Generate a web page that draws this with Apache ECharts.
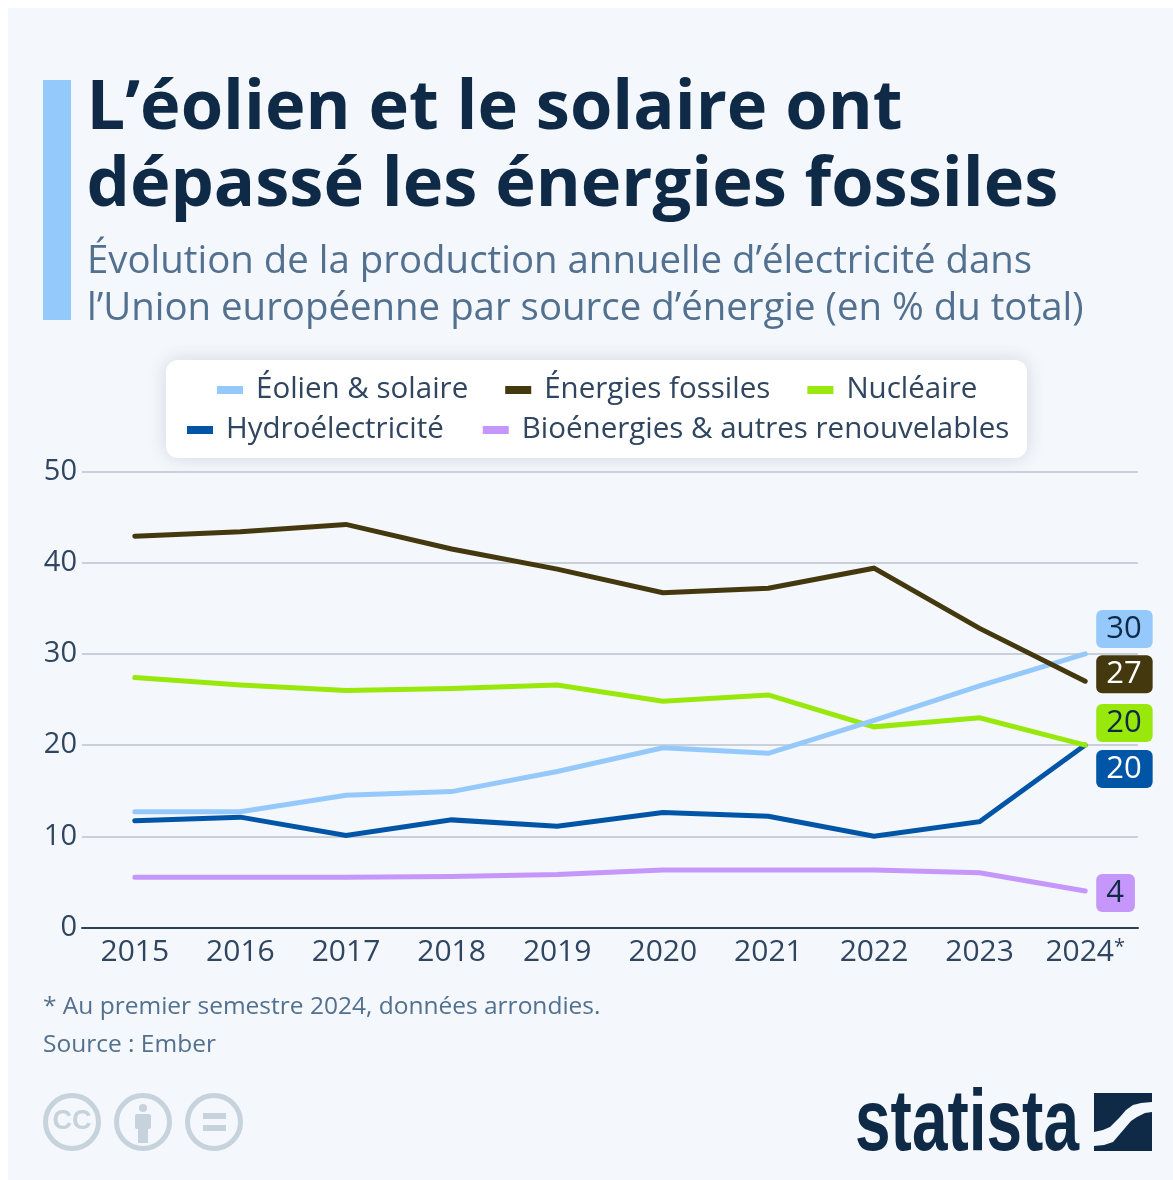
<!DOCTYPE html>
<html>
<head>
<meta charset="utf-8">
<title>Production d'électricité UE</title>
<script src="https://cdn.jsdelivr.net/npm/echarts@6/dist/echarts.min.js"></script>
<style>
  html, body { margin: 0; padding: 0; background: #fff; }
  #panel { position: absolute; left: 8px; top: 8px; width: 1165px; height: 1172px; background: #f4f7fb; }
  #chart { position: absolute; left: 0; top: 0; width: 1173px; height: 1180px; }
</style>
</head>
<body>
<div id="panel"></div>
<div id="chart"></div>
<script>
const years = ['2015', '2016', '2017', '2018', '2019', '2020', '2021', '2022', '2023', '2024*']
const yTicks = [0, 10, 20, 30, 40, 50]

const eolienSolaire = [12.7, 12.7, 14.5, 14.9, 17.1, 19.7, 19.1, 22.7, 26.5, 30]
const fossiles = [42.9, 43.4, 44.2, 41.5, 39.3, 36.7, 37.2, 39.4, 32.8, 27]
const nucleaire = [27.4, 26.6, 26.0, 26.2, 26.6, 24.8, 25.5, 22.0, 23.0, 20]
const hydro = [11.7, 12.1, 10.1, 11.8, 11.1, 12.6, 12.2, 10.0, 11.6, 20]
const bio = [5.5, 5.5, 5.5, 5.6, 5.8, 6.3, 6.3, 6.3, 6.0, 4]

const font = '"Open Sans", "Noto Sans", sans-serif'
const navy = '#0f2a47'
const textDark = '#2f4560'
const textMuted = '#52708f'
const iconGrey = '#c6d2dc'

// une serie + son etiquette de fin
function makeLine(name, data, color, labelColor, offsetY) {
  return {
    name: name,
    type: 'line',
    data: data,
    symbol: 'none',
    lineStyle: { color: color, width: 5, cap: 'round', join: 'miter' },
    itemStyle: { color: color },
    endLabel: {
      show: true,
      formatter: (p) => String(Math.round(p.value)),
      offset: [3, offsetY],
      backgroundColor: color,
      color: labelColor,
      fontFamily: font,
      fontSize: 31,
      lineHeight: 36,
      borderRadius: 6,
      padding: [1, 11, 1, 10]
    }
  }
}

const legendBase = {
  orient: 'horizontal',
  icon: 'rect',
  itemWidth: 26,
  itemHeight: 8,
  padding: 0,
  textStyle: { fontFamily: font, fontSize: 29.5, color: textDark, padding: [0, 0, 0, 8] }
}

const chart = echarts.init(document.getElementById('chart'))
chart.setOption({
  animation: false,
  title: [
    {
      text: 'L’éolien et le solaire ont\ndépassé les énergies fossiles',
      left: 86.5, top: 71, padding: 0,
      textStyle: { fontFamily: font, fontWeight: 700, fontSize: 68.6, lineHeight: 77, color: navy }
    },
    {
      text: 'Évolution de la production annuelle d’électricité dans\nl’Union européenne par source d’énergie (en % du total)',
      left: 87, top: 239, padding: 0,
      textStyle: { fontFamily: font, fontWeight: 400, fontSize: 38.4, lineHeight: 47, color: textMuted }
    },
    {
      text: '* Au premier semestre 2024, données arrondies.\nSource : Ember',
      left: 43, top: 988, padding: 0,
      textStyle: { fontFamily: font, fontWeight: 400, fontSize: 24.5, lineHeight: 38, color: textMuted }
    }
  ],
  legend: [
    Object.assign({}, legendBase, {
      data: ['Éolien & solaire', 'Énergies fossiles', 'Nucléaire'],
      left: 217, top: 375, itemGap: 37
    }),
    Object.assign({}, legendBase, {
      data: ['Hydroélectricité', 'Bioénergies & autres renouvelables'],
      left: 187, top: 415, itemGap: 39
    })
  ],
  grid: { left: 82, right: 35, top: 471.5, bottom: 252.5, containLabel: false },
  xAxis: {
    type: 'category',
    data: years,
    axisTick: { show: false },
    axisLine: { show: true, lineStyle: { color: '#2b4059', width: 2 } },
    axisLabel: {
      margin: 10,
      // asterisque plus petit sur la derniere annee
      formatter: (v) => v.endsWith('*') ? '{y|' + v.slice(0, -1) + '}{s|*}' : '{y|' + v + '}',
      rich: {
        y: { fontFamily: font, fontSize: 30, color: textDark },
        s: { fontFamily: font, fontSize: 20, color: textDark, verticalAlign: 'top' }
      }
    }
  },
  yAxis: {
    type: 'value',
    min: yTicks[0],
    max: yTicks[yTicks.length - 1],
    interval: 10,
    axisLine: { show: false },
    axisTick: { show: false },
    axisLabel: { fontFamily: font, fontSize: 29, color: textDark, margin: 5 },
    splitLine: { lineStyle: { color: '#c9d0da', width: 2 } }
  },
  series: [
    makeLine('Bioénergies & autres renouvelables', bio, '#c597fb', navy, 2),
    makeLine('Hydroélectricité', hydro, '#0155a6', '#ffffff', 24),
    makeLine('Nucléaire', nucleaire, '#98e80c', navy, -22),
    makeLine('Éolien & solaire', eolienSolaire, '#95c9fb', navy, -25),
    makeLine('Énergies fossiles', fossiles, '#44380f', '#ffffff', -7)
  ],
  graphic: [
    // barre du titre
    { type: 'rect', shape: { x: 43, y: 80, width: 28, height: 240 }, style: { fill: '#94c9fb' } },
    // fond de la legende
    {
      type: 'rect',
      shape: { x: 166, y: 360, width: 861, height: 98, r: 12 },
      style: { fill: '#ffffff', shadowBlur: 18, shadowColor: 'rgba(60,80,110,0.18)' },
      z: -1
    },
    // licences
    { type: 'circle', shape: { cx: 72, cy: 1122, r: 26.5 }, style: { fill: 'none', stroke: iconGrey, lineWidth: 5 } },
    { type: 'text', x: 72, y: 1122, style: { text: 'CC', fill: iconGrey, fontFamily: 'Liberation Sans', fontWeight: 700, fontSize: 27, align: 'center', verticalAlign: 'middle' } },
    { type: 'circle', shape: { cx: 143, cy: 1122, r: 26.5 }, style: { fill: 'none', stroke: iconGrey, lineWidth: 5 } },
    { type: 'circle', shape: { cx: 143, cy: 1108, r: 4 }, style: { fill: iconGrey } },
    { type: 'rect', shape: { x: 135, y: 1114, width: 16, height: 15, r: 2 }, style: { fill: iconGrey } },
    { type: 'rect', shape: { x: 138, y: 1127, width: 10, height: 16 }, style: { fill: iconGrey } },
    { type: 'circle', shape: { cx: 214, cy: 1122, r: 26.5 }, style: { fill: 'none', stroke: iconGrey, lineWidth: 5 } },
    { type: 'rect', shape: { x: 203, y: 1113, width: 23, height: 6 }, style: { fill: iconGrey } },
    { type: 'rect', shape: { x: 203, y: 1125, width: 23, height: 6 }, style: { fill: iconGrey } },
    // logo
    {
      type: 'text', x: 855, y: 1126, scaleX: 0.727,
      style: { text: 'statista', fill: navy, fontFamily: 'Liberation Sans', fontWeight: 700, fontSize: 88, align: 'left', verticalAlign: 'middle' }
    },
    {
      type: 'polygon',
      shape: { points: [[1094, 1093], [1152, 1093], [1152, 1102], [1141, 1103], [1133, 1105], [1126, 1110], [1120, 1117], [1110, 1127], [1103, 1130], [1094, 1132]] },
      style: { fill: navy }
    },
    {
      type: 'polygon',
      shape: { points: [[1152, 1112], [1152, 1151], [1094, 1151], [1094, 1146], [1104, 1145], [1113, 1142], [1119, 1135], [1125, 1128], [1131, 1121], [1137, 1117], [1145, 1113]] },
      style: { fill: navy }
    }
  ]
})
</script>
</body>
</html>
